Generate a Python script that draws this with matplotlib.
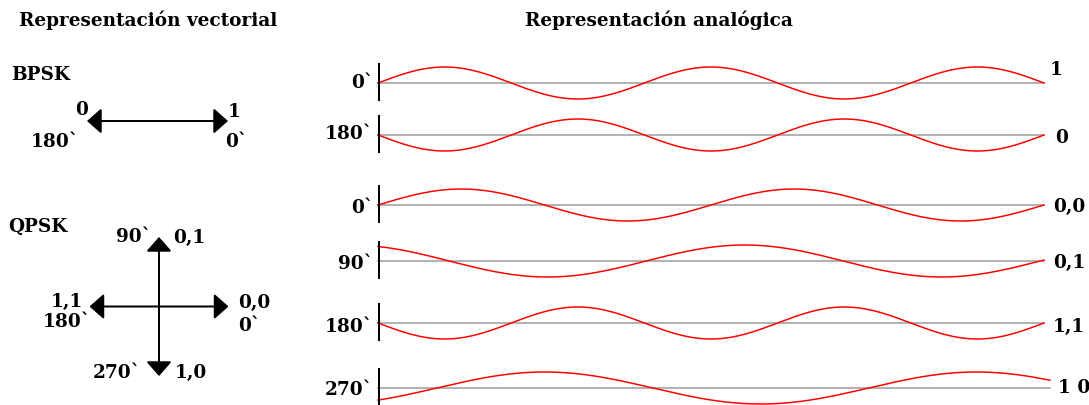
import numpy as np
import matplotlib
matplotlib.use("Agg")
import matplotlib.pyplot as plt

# ---------------- data ----------------
titles = ["Representación vectorial", "Representación analógica"]
schemes = ["BPSK", "QPSK"]

bpsk_angles = [0, 180]                 # vector directions (deg)
bpsk_phase_labels = ["0`", "180`"]
bpsk_bits = ["1", "0"]

qpsk_angles = [0, 90, 180, 270]
qpsk_phase_labels = ["0`", "90`", "180`", "270`"]
qpsk_vector_bits = ["0,0", "0,1", "1,1", "1,0"]
qpsk_wave_bits = ["0,0", "0,1", "1,1", "1 0"]

# waveform as drawn: number of cycles in each row and starting phase (deg)
bpsk_cycles = [2.5, 2.5]
bpsk_wave_phase = [0, 180]
qpsk_cycles = [2.0, 1.69, 2.5, 1.556]
qpsk_wave_phase = [0, 115, 180, -49]

# ---------------- layout ----------------
W, H = 1089, 406
fig = plt.figure(figsize=(W / 100, H / 100), dpi=100)
ax = fig.add_axes([0, 0, 1, 1])
ax.set_xlim(0, W)
ax.set_ylim(H, 0)
ax.axis("off")

FONT = dict(family="DejaVu Serif", fontweight="bold", fontsize=13.3, color="black")
PX = 0.72  # points per pixel

# titles
ax.text(19, 26, titles[0], ha="left", va="baseline", **FONT)
ax.text(525, 26, titles[1], ha="left", va="baseline", **FONT)
ax.text(11, 80, schemes[0], ha="left", va="baseline", **FONT)
ax.text(8, 232, schemes[1], ha="left", va="baseline", **FONT)

# ---------------- vectors ----------------
def draw_vector(cx, cy, ang, r=70.5):
    tip = (cx + r * np.cos(np.radians(ang)), cy - r * np.sin(np.radians(ang)))
    ax.annotate("", xy=tip, xytext=(cx, cy),
                arrowprops=dict(arrowstyle="-|>,head_length=0.88,head_width=0.78",
                                mutation_scale=10, lw=2 * PX, color="black",
                                shrinkA=0, shrinkB=0))

for a in bpsk_angles:
    draw_vector(157.5, 122, a)
for a in qpsk_angles:
    draw_vector(159, 307.5, a, r=69.5)

# BPSK vector labels (bit on top, phase below)
ax.text(82, 115, bpsk_bits[1], ha="center", va="baseline", **FONT)
ax.text(79, 147, bpsk_phase_labels[1], ha="right", va="baseline", **FONT)
ax.text(228, 117, bpsk_bits[0], ha="left", va="baseline", **FONT)
ax.text(225, 147, bpsk_phase_labels[0], ha="left", va="baseline", **FONT)

# QPSK vector labels
ax.text(238, 308, qpsk_vector_bits[0], ha="left", va="baseline", **FONT)
ax.text(238, 331, qpsk_phase_labels[0], ha="left", va="baseline", **FONT)
ax.text(151, 242, qpsk_phase_labels[1], ha="right", va="baseline", **FONT)
ax.text(173, 243, qpsk_vector_bits[1], ha="left", va="baseline", **FONT)
ax.text(83, 307, qpsk_vector_bits[2], ha="right", va="baseline", **FONT)
ax.text(91, 327, qpsk_phase_labels[2], ha="right", va="baseline", **FONT)
ax.text(141, 378, qpsk_phase_labels[3], ha="right", va="baseline", **FONT)
ax.text(175, 378, qpsk_vector_bits[3], ha="left", va="baseline", **FONT)

# ---------------- waveforms ----------------
AMP = 16
X0 = 378

def draw_wave(yc, cycles, phase, x1, label_l, label_r, base_l, base_r, rx):
    x = np.linspace(X0, x1, 800)
    t = (x - X0) / (x1 - X0)
    y = yc - AMP * np.sin(2 * np.pi * cycles * t + np.radians(phase))
    ax.plot([X0, x1], [yc, yc], color="#9a9a9a", lw=1.5 * PX, zorder=1)
    ax.plot(x, y, color="#ff0000", lw=1.5 * PX, zorder=2)
    ax.plot([X0 + 1, X0 + 1], [yc - 19, yc + 17], color="black", lw=2 * PX, zorder=3)
    ax.text(373, base_l, label_l, ha="right", va="baseline", **FONT)
    ax.text(rx, base_r, label_r, ha="left", va="baseline", **FONT)

bpsk_rows = [84, 136]
bpsk_base_l = [88, 139]
bpsk_base_r = [75, 143]
bpsk_rx = [1050, 1055]
for i in range(2):
    draw_wave(bpsk_rows[i], bpsk_cycles[i], bpsk_wave_phase[i], 1044,
              bpsk_phase_labels[i], bpsk_bits[i], bpsk_base_l[i], bpsk_base_r[i], bpsk_rx[i])

qpsk_rows = [206, 262, 324, 389]
qpsk_x1 = [1044, 1044, 1044, 1050]
qpsk_base_l = [213, 269, 332, 395]
qpsk_base_r = [212, 268, 332, 393]
qpsk_rx = [1053, 1053, 1053, 1058]
for i in range(4):
    draw_wave(qpsk_rows[i], qpsk_cycles[i], qpsk_wave_phase[i], qpsk_x1[i],
              qpsk_phase_labels[i], qpsk_wave_bits[i], qpsk_base_l[i], qpsk_base_r[i], qpsk_rx[i])

fig.savefig("out.png", dpi=100, facecolor="white")
